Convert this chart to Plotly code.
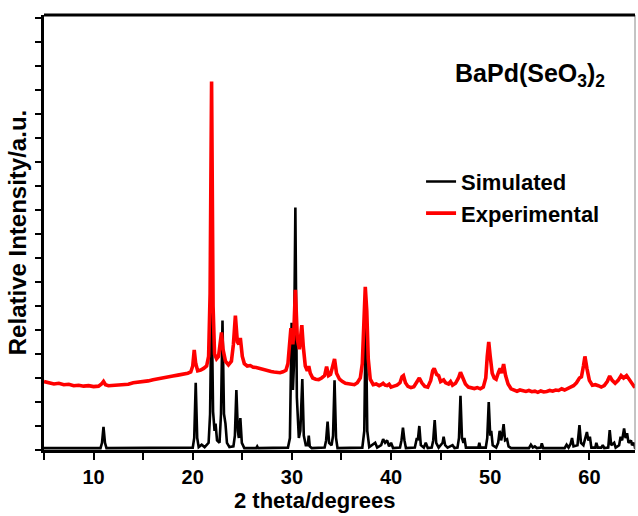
import plotly.graph_objects as go

# Simulated powder pattern (2theta in degrees, relative intensity)
sim_2theta = [
    5.0, 10.7, 10.85, 11.0, 11.15, 11.3,
    20.0, 20.15, 20.3, 20.45, 20.6, 20.9, 21.2,
    21.6, 21.75, 21.9, 22.05, 22.2, 22.3, 22.45, 22.7, 22.85, 23.0, 23.15, 23.3, 23.45, 23.7,
    24.1, 24.25, 24.4, 24.55, 24.65, 24.8, 24.95, 25.2,
    26.4, 26.5, 26.6,
    29.6, 29.8, 29.97, 30.1, 30.2, 30.35, 30.5, 30.7, 30.85, 31.05, 31.2, 31.4, 31.6, 31.7, 31.8, 32.0,
    33.3, 33.45, 33.6, 33.75, 34.0, 34.15, 34.3, 34.45, 34.6,
    37.1, 37.3, 37.45, 37.6, 37.8, 38.4, 38.6, 39.0, 39.2, 39.4, 39.6, 39.8, 40.0, 40.2,
    40.9, 41.05, 41.2, 41.35, 41.5,
    42.4, 42.6, 42.7, 42.85, 43.0, 43.3, 43.5, 43.7,
    44.1, 44.25, 44.4, 44.55, 44.8, 45.2, 45.3, 45.45, 45.7, 46.2, 46.4,
    46.7, 46.85, 47.0, 47.15, 47.3, 47.4, 47.55, 48.8, 48.9, 49.0,
    49.55, 49.7, 49.85, 50.0, 50.1, 50.25, 50.6, 50.8, 50.95, 51.1, 51.2, 51.35, 51.5, 51.7, 51.85, 52.1,
    53.9, 54.1, 54.3, 54.5, 54.7, 55.1, 55.2, 55.35,
    57.5, 57.7, 57.9, 58.1, 58.25, 58.4, 58.8, 59.0, 59.15, 59.4, 59.6, 59.75, 59.9, 60.05, 60.2,
    60.6, 60.7, 60.85, 61.2, 61.35, 61.5,
    61.9, 62.05, 62.2, 62.5, 62.65, 63.0, 63.15, 63.3, 63.5, 63.65, 63.8, 63.95, 64.2, 64.3, 64.5, 64.6, 64.8,
]
sim_intensity = [
    0.08, 0.08, 0.3, 0.96, 0.3, 0.08,
    0.1, 0.5, 2.8, 0.5, 0.12, 0.22, 0.12,
    0.3, 1.5, 6.4, 1.6, 0.8, 1.1, 0.4, 0.3, 1.5, 5.4, 1.5, 1.1, 0.3, 0.12,
    0.15, 0.6, 2.5, 0.8, 0.5, 1.33, 0.3, 0.08,
    0.08, 0.15, 0.08,
    0.1, 0.5, 5.3, 2.5, 3.5, 10.1, 2.2, 0.5, 0.8, 2.96, 0.6, 0.2, 0.2, 0.6, 0.15, 0.08,
    0.1, 0.4, 1.18, 0.3, 0.2, 0.6, 2.9, 0.5, 0.08,
    0.1, 0.8, 5.8, 0.8, 0.12, 0.3, 0.1, 0.2, 0.45, 0.3, 0.4, 0.15, 0.3, 0.08,
    0.1, 0.4, 0.93, 0.4, 0.08,
    0.1, 0.5, 0.4, 1.0, 0.2, 0.1, 0.3, 0.08,
    0.1, 0.4, 1.25, 0.3, 0.1, 0.3, 0.55, 0.2, 0.1, 0.2, 0.08,
    0.1, 0.5, 2.26, 0.5, 0.3, 0.5, 0.1, 0.1, 0.3, 0.1,
    0.1, 0.5, 2.0, 0.6, 0.8, 0.2, 0.1, 0.3, 0.8, 0.4, 0.6, 1.08, 0.4, 0.45, 0.15, 0.08,
    0.08, 0.22, 0.1, 0.15, 0.08, 0.1, 0.28, 0.08,
    0.08, 0.22, 0.1, 0.25, 0.5, 0.15, 0.2, 1.04, 0.3, 0.2, 0.6, 0.75, 0.4, 0.55, 0.1,
    0.1, 0.3, 0.1, 0.1, 0.2, 0.08,
    0.1, 0.83, 0.2, 0.3, 0.1, 0.2, 0.55, 0.4, 0.9, 0.5, 0.7, 0.3, 0.4, 0.2, 0.3, 0.1, 0.1,
]

# Measured powder pattern
exp_2theta = [
    5.0, 5.5, 6.0, 6.5, 7.0, 7.5, 8.0, 8.5, 9.0, 9.5, 10.0, 10.5, 10.8, 11.0, 11.2, 11.5,
    12.0, 12.5, 13.0, 13.5, 14.0, 14.5, 15.0, 15.5, 16.0, 16.5, 17.0, 17.5, 18.0, 18.5,
    19.0, 19.5, 19.8, 20.0, 20.15, 20.3, 20.5, 20.8, 21.1, 21.4, 21.6, 21.75, 21.9, 22.05,
    22.2, 22.4, 22.6, 22.75, 22.9, 23.05, 23.3, 23.6, 23.9, 24.1, 24.3, 24.5, 24.65, 24.8,
    25.0, 25.2, 25.5, 25.8, 26.1, 26.4, 26.7, 27.0, 27.3, 27.6, 27.9, 28.2, 28.5, 28.8,
    29.1, 29.4, 29.6, 29.75, 29.9, 30.1, 30.2, 30.35, 30.55, 30.75, 30.9, 31.0, 31.15,
    31.35, 31.55, 31.7, 31.85, 32.1, 32.4, 32.7, 33.0, 33.3, 33.5, 33.7, 33.9, 34.1, 34.3,
    34.5, 34.8, 35.1, 35.4, 35.7, 36.0, 36.3, 36.6, 36.9, 37.1, 37.25, 37.4, 37.55, 37.7,
    37.9, 38.2, 38.5, 38.8, 39.0, 39.2, 39.4, 39.6, 39.8, 40.0, 40.3, 40.6, 40.9, 41.1,
    41.25, 41.45, 41.7, 42.0, 42.3, 42.6, 42.85, 43.1, 43.4, 43.7, 44.0, 44.2, 44.35, 44.6,
    44.8, 45.0, 45.3, 45.5, 45.8, 46.0, 46.2, 46.5, 46.8, 47.0, 47.2, 47.5, 47.8, 48.1,
    48.4, 48.7, 49.0, 49.3, 49.55, 49.7, 49.85, 50.0, 50.2, 50.4, 50.6, 50.85, 51.0, 51.15,
    51.35, 51.55, 51.8, 52.1, 52.4, 52.7, 53.0, 53.3, 53.6, 53.9, 54.2, 54.5, 54.8, 55.1,
    55.4, 55.7, 56.0, 56.3, 56.6, 56.9, 57.2, 57.5, 57.8, 58.1, 58.4, 58.7, 59.0, 59.2,
    59.4, 59.55, 59.75, 60.0, 60.3, 60.6, 60.9, 61.2, 61.5, 61.8, 62.05, 62.3, 62.6, 62.9,
    63.2, 63.45, 63.75, 64.0, 64.3, 64.5, 64.8,
]
exp_intensity = [
    2.85, 2.8, 2.75, 2.78, 2.72, 2.74, 2.68, 2.7, 2.66, 2.68, 2.64, 2.66, 2.75, 2.86, 2.72, 2.68,
    2.7, 2.72, 2.75, 2.74, 2.8, 2.82, 2.87, 2.88, 2.93, 2.96, 3.0, 3.04, 3.08, 3.12,
    3.15, 3.2, 3.25, 3.5, 4.17, 3.6, 3.3, 3.33, 3.4, 3.5, 3.9, 6.5, 15.35, 6.0,
    4.0, 3.8, 3.9, 4.3, 4.9, 4.2, 3.7, 3.55, 3.7, 4.4, 5.6, 4.5, 4.4, 4.67,
    3.9, 3.6, 3.5, 3.52, 3.45, 3.44, 3.4, 3.38, 3.35, 3.3, 3.27, 3.25, 3.24, 3.22,
    3.26, 3.32, 3.6, 4.3, 5.08, 4.4, 5.0, 6.67, 4.6, 4.2, 4.8, 5.2, 4.3,
    3.5, 3.3, 3.5, 3.2, 3.0, 2.95, 2.93, 3.0, 3.1, 3.47, 3.1, 3.15, 3.45, 3.79,
    3.2, 2.95, 2.85, 2.78, 2.76, 2.74, 2.72, 2.8, 3.0, 3.6, 5.2, 6.8, 5.8, 3.8,
    2.95, 2.72, 2.75, 2.68, 2.72, 2.78, 2.7, 2.68, 2.74, 2.62, 2.66, 2.7, 2.8, 3.05,
    3.1, 2.8, 2.65, 2.6, 2.64, 2.85, 3.0, 2.8, 2.65, 2.62, 2.9, 3.3, 3.4, 3.15,
    3.1, 2.85, 2.92, 2.8, 2.75, 2.85, 2.7, 2.78, 3.0, 3.24, 3.05, 2.75, 2.62, 2.58,
    2.56, 2.6, 2.55, 2.62, 3.0, 3.9, 4.5, 3.9, 3.2, 3.0, 2.95, 3.25, 3.4, 3.2,
    3.58, 3.1, 2.75, 2.55, 2.48, 2.45, 2.5, 2.45, 2.44, 2.48, 2.43, 2.45, 2.4, 2.46,
    2.42, 2.44, 2.48, 2.45, 2.5, 2.48, 2.55, 2.5, 2.58, 2.62, 2.68, 2.8, 3.0, 3.05,
    3.5, 3.9, 3.4, 2.9, 2.7, 2.72, 2.68, 2.62, 2.68, 2.85, 3.08, 2.9, 2.78, 2.9,
    3.1, 3.0, 3.1, 2.95, 2.8, 2.65, 2.7,
]

x_ticks = [10, 20, 30, 40, 50, 60]

FONT = "Arial, Liberation Sans, sans-serif"

fig = go.Figure()
fig.add_trace(go.Scatter(
    x=sim_2theta, y=sim_intensity, mode="lines", name="Simulated",
    line=dict(color="black", width=2.6),
))
fig.add_trace(go.Scatter(
    x=exp_2theta, y=exp_intensity, mode="lines", name="Experimental",
    line=dict(color="#ff0000", width=3.6),
))

# compound label
fig.add_annotation(
    text="BaPd(SeO<sub>3</sub>)<sub>2</sub>",
    xref="paper", yref="paper", x=0.822, y=0.862,
    xanchor="center", yanchor="middle", showarrow=False,
    font=dict(family=FONT, size=25, color="black", weight="bold"),
)

# x-axis title, set slightly left of the plot centre
fig.add_annotation(
    text="2 theta/degrees",
    xref="paper", yref="paper", x=0.4585, y=-0.115,
    xanchor="center", yanchor="middle", showarrow=False,
    font=dict(family=FONT, size=22, color="black", weight="bold"),
)

# thin right-hand border
fig.add_shape(type="line", xref="paper", yref="paper", x0=1, x1=1, y0=0, y1=1,
              line=dict(color="#888888", width=1))

fig.update_layout(
    width=638, height=516,
    margin=dict(l=44, r=3, t=15, b=66),
    paper_bgcolor="white", plot_bgcolor="white",
    showlegend=True,
    legend=dict(
        x=0.638, y=0.665, xanchor="left", yanchor="top",
        bgcolor="rgba(0,0,0,0)",
        font=dict(family=FONT, size=22, color="black", weight="bold"),
        tracegroupgap=0,
    ),
    xaxis=dict(
        range=[5, 64.6], tickvals=x_ticks,
        ticks="outside", ticklen=7, tickwidth=2, tickcolor="black",
        minor=dict(dtick=5, tick0=5, ticks="outside", ticklen=7, tickwidth=2, tickcolor="black"),
        showline=True, linecolor="black", linewidth=3,
        mirror=False, showgrid=False, zeroline=False,
        tickfont=dict(family=FONT, size=20, color="black", weight="bold"),
    ),
    yaxis=dict(
        range=[0, 18.125], dtick=1, tick0=0,
        ticks="outside", ticklen=6, tickwidth=2, tickcolor="black",
        showticklabels=False,
        showline=True, linecolor="black", linewidth=3,
        mirror=False, showgrid=False, zeroline=False,
        title=dict(text="Relative Intensity/a.u.", standoff=2,
                   font=dict(family=FONT, size=24, color="black", weight="bold")),
    ),
)

# thick top border
fig.add_shape(type="line", xref="paper", yref="paper", x0=0, x1=1, y0=1, y1=1,
              line=dict(color="black", width=3))

fig.write_html("out.html")
